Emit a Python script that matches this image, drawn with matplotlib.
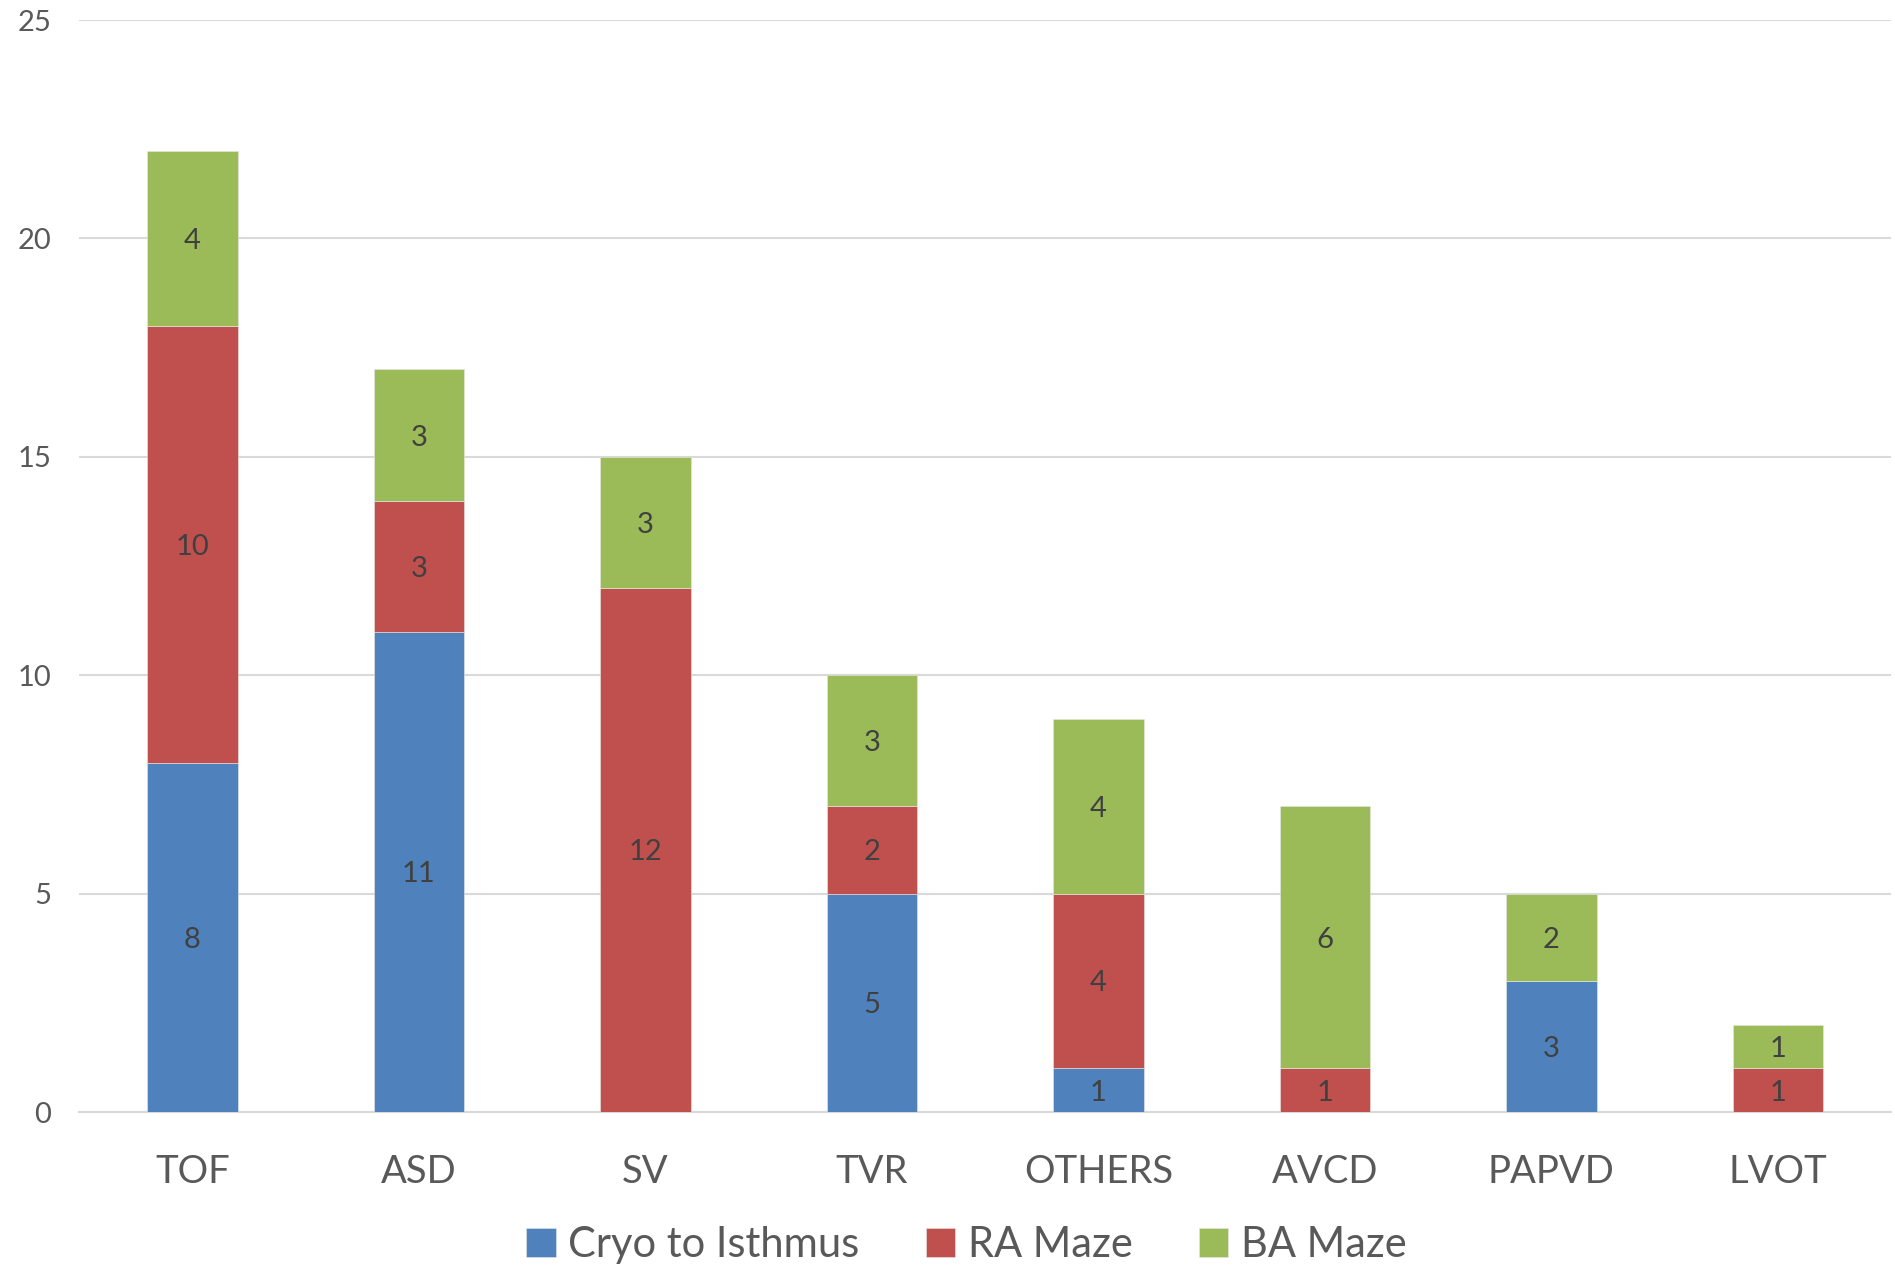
import matplotlib
matplotlib.use("Agg")
import matplotlib.pyplot as plt
import numpy as np

categories = ["TOF", "ASD", "SV", "TVR", "OTHERS", "AVCD", "PAPVD", "LVOT"]
cryo = [8, 11, 0, 5, 1, 0, 3, 0]
ra_maze = [10, 3, 12, 2, 4, 1, 0, 1]
ba_maze = [4, 3, 3, 3, 4, 6, 2, 1]
series_names = ["Cryo to Isthmus", "RA Maze", "BA Maze"]
colors = ["#4F81BD", "#C0504D", "#9BBB59"]
y_ticks = [0, 5, 10, 15, 20, 25]

plt.rcParams["font.family"] = ["Lato", "DejaVu Sans"]

fig = plt.figure(figsize=(18.95, 12.69), dpi=100)
ax = fig.add_axes([0.0417, 0.1237, 0.9563, 0.8605])

x = np.arange(len(categories))
bottom = np.zeros(len(categories))
handles = []
for name, vals, col in zip(series_names, [cryo, ra_maze, ba_maze], colors):
    vals = np.array(vals, dtype=float)
    bars = ax.bar(x, vals, width=0.4, bottom=bottom, color=col,
                  edgecolor="#E8E8E8", linewidth=0.4, label=name, zorder=3)
    handles.append(bars)
    for xi, b, v in zip(x, bottom, vals):
        if v > 0:
            ax.text(xi, b + v / 2, f"{int(v)}", ha="center", va="center_baseline",
                    fontsize=21, color="#404040", zorder=4)
    bottom += vals

ax.set_xlim(-0.5, len(categories) - 0.5)
ax.set_ylim(0, 25)
ax.set_yticks(y_ticks)
ax.set_xticks(x)
ax.set_xticklabels(categories, fontsize=27.5, color="#595959")
ax.tick_params(axis="y", labelsize=21, labelcolor="#595959", length=0, pad=20)
ax.tick_params(axis="x", length=0, pad=30)
for lab in ax.get_yticklabels():
    lab.set_horizontalalignment("right")

ax.yaxis.grid(True, color="#D9D9D9", linewidth=1.5, zorder=0)
ax.set_axisbelow(True)
for s in ["top", "right", "left"]:
    ax.spines[s].set_visible(False)
ax.spines["bottom"].set_color("#D9D9D9")
ax.spines["bottom"].set_linewidth(1.5)

leg = fig.legend(handles=handles, labels=series_names, loc="center",
                 bbox_to_anchor=(0.51, 0.019), ncol=3, frameon=False,
                 fontsize=30, handlelength=0.7, handleheight=0.7,
                 handletextpad=0.3, columnspacing=1.6)
for t in leg.get_texts():
    t.set_color("#595959")

fig.savefig("out.png", dpi=100)
